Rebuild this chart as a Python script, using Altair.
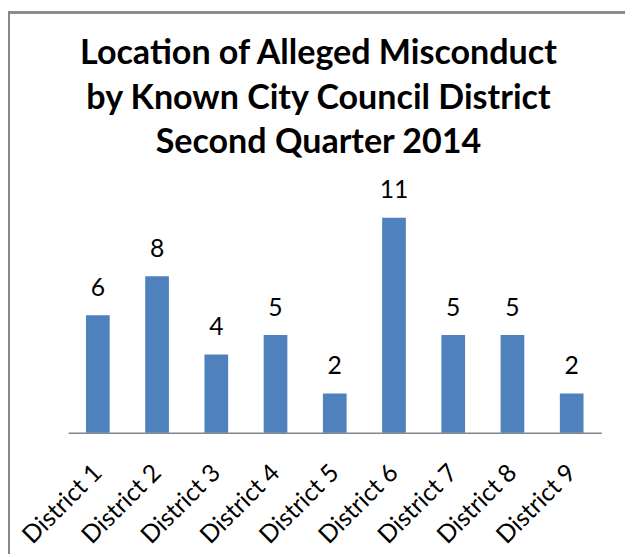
import altair as alt
import pandas as pd

districts = ["District 1", "District 2", "District 3", "District 4", "District 5",
             "District 6", "District 7", "District 8", "District 9"]
counts = [6, 8, 4, 5, 2, 11, 5, 5, 2]
title_lines = ["Location of Alleged Misconduct",
               "by Known City Council District",
               "Second Quarter 2014"]

df = pd.DataFrame({"district": districts, "count": counts})

PL, PT, W, H = 61, 189, 540, 237.6
TOTAL_W, TOTAL_H = 625, 549

x_enc = alt.X("district:N", sort=districts,
              scale=alt.Scale(paddingInner=0.6, paddingOuter=0.3),
              axis=alt.Axis(title=None, labelAngle=-45, labelAlign="right",
                            labelBaseline="middle", ticks=False,
                            labelPadding=36, labelFont="Lato", labelFontSize=25,
                            labelColor="#000000", domainColor="#868686",
                            domainWidth=1.5, grid=False))
y_enc = alt.Y("count:Q", scale=alt.Scale(domain=[0, 12]), axis=None)

base = alt.Chart(df)
bars = base.mark_bar(color="#4F81BD").encode(x=x_enc, y=y_enc)
labels = base.mark_text(font="Lato", fontSize=25, color="#000000",
                        baseline="alphabetic", dy=-19.5).encode(
    x=alt.X("district:N", sort=districts), y=y_enc, text="count:Q")

border_left = alt.Chart(df).mark_rule(color="#868686", strokeWidth=1.5).encode(
    x=alt.value(-PL + 1), y=alt.value(-PT), y2=alt.value(TOTAL_H - PT))
border_top = alt.Chart(df).mark_rule(color="#868686", strokeWidth=1.5).encode(
    y=alt.value(-PT + 1), x=alt.value(-PL), x2=alt.value(TOTAL_W - PL))

chart = alt.layer(bars, labels, border_left, border_top).properties(
    width=W, height=H,
    background="white",
    title=alt.TitleParams(text=title_lines, font="Lato", fontSize=34.5,
                          fontWeight="bold", color="#000000", anchor="middle",
                          dx=-16.5, dy=152, lineHeight=45.3, offset=0),
    autosize=alt.AutoSizeParams(type="none"),
    padding={"left": PL, "top": PT, "right": TOTAL_W - PL - W,
             "bottom": TOTAL_H - PT - H},
).configure_view(stroke=None)

chart.save("out.html", embed_options={"renderer": "svg", "actions": False})
